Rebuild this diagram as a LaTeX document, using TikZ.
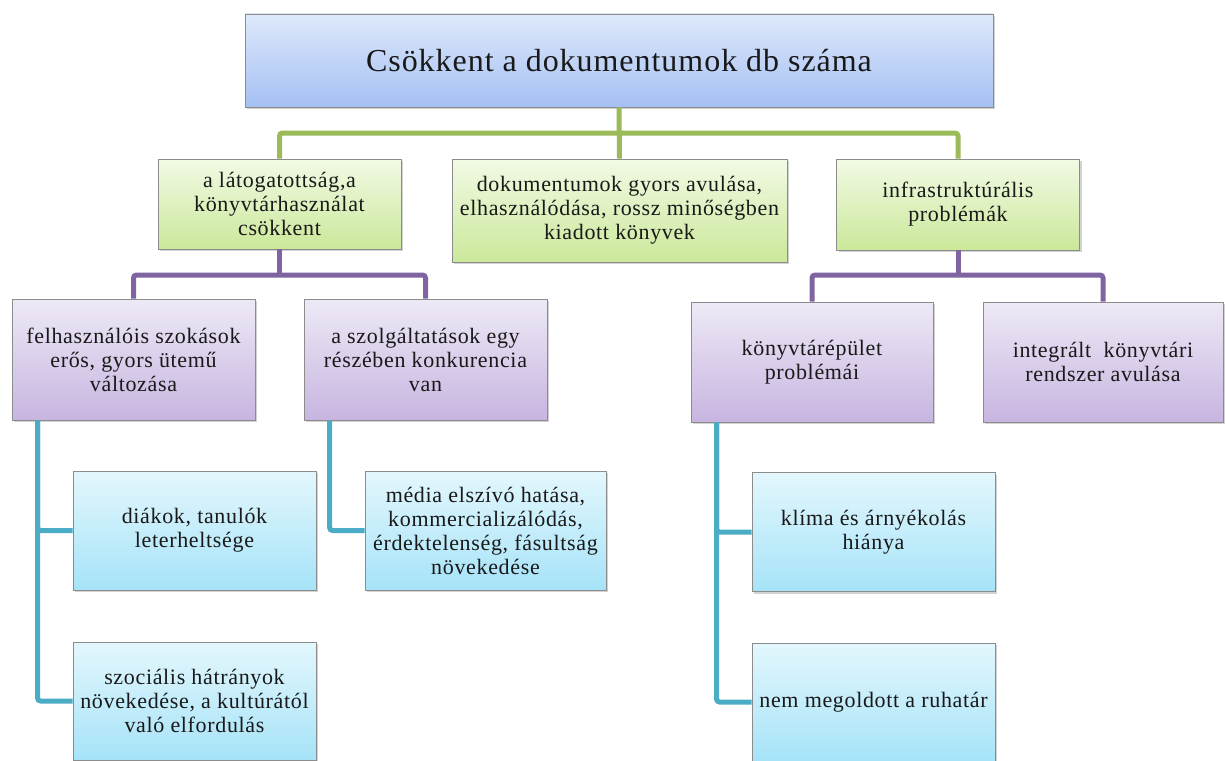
\documentclass[tikz,border=0pt]{standalone}
\usepackage{fontspec}
\setmainfont{Liberation Serif}[LetterSpace=3]
\usetikzlibrary{shadows}
\definecolor{topT}{RGB}{222,233,251}
\definecolor{topB}{RGB}{165,192,243}
\definecolor{grT}{RGB}{242,250,229}
\definecolor{grB}{RGB}{203,232,154}
\definecolor{puT}{RGB}{238,233,246}
\definecolor{puB}{RGB}{199,181,224}
\definecolor{blT}{RGB}{227,247,253}
\definecolor{blB}{RGB}{166,227,248}
\definecolor{gLine}{RGB}{155,187,89}
\definecolor{pLine}{RGB}{128,100,162}
\definecolor{bLine}{RGB}{75,172,198}
\definecolor{boxBorder}{RGB}{140,140,140}
\definecolor{txt}{RGB}{25,25,25}
\tikzset{
  basebox/.style={draw=boxBorder, line width=0.9pt, inner sep=0pt, align=center,
    text=txt, font=\fontsize{22}{24}\selectfont,
    drop shadow={opacity=0.35, shadow xshift=2pt, shadow yshift=-2pt}},
  titlebox/.style={basebox, top color=topT, bottom color=topB, font=\fontsize{32}{36}\selectfont},
  greenbox/.style={basebox, top color=grT, bottom color=grB},
  purplebox/.style={basebox, top color=puT, bottom color=puB},
  bluebox/.style={basebox, top color=blT, bottom color=blB},
  conn/.style={line width=5pt, rounded corners=3pt},
  gline/.style={conn, draw=gLine},
  pline/.style={conn, draw=pLine},
  bline/.style={conn, draw=bLine}
}
\begin{document}
\begin{tikzpicture}[x=1pt, y=-1pt]
\useasboundingbox (0,0) rectangle (1225,760);
\fill[white] (0,0) rectangle (1225,760);

% connectors first
\coordinate (gbus) at (0,133);
\coordinate (pbus) at (0,275);

% boxes
\node[titlebox, minimum width=748pt, minimum height=93pt] (top) at (619,60.5) {Csökkent a dokumentumok db száma};

\node[greenbox, minimum width=243pt, minimum height=90pt] (G1) at (279.5,204) {a látogatottság,a\\könyvtárhasználat\\csökkent};
\node[greenbox, minimum width=335pt, minimum height=103pt] (G2) at (619.5,210.5) {dokumentumok gyors avulása,\\elhasználódása, rossz minőségben\\kiadott könyvek};
\node[greenbox, minimum width=243pt, minimum height=91pt] (G3) at (958,204.5) {infrastruktúrális\\problémák};

\node[purplebox, minimum width=243pt, minimum height=121pt] (P1) at (133.5,359.5) {felhasználóis szokások\\erős, gyors ütemű\\változása};
\node[purplebox, minimum width=243pt, minimum height=121pt] (P2) at (425.5,359.5) {a szolgáltatások egy\\részében konkurencia\\van};
\node[purplebox, minimum width=242pt, minimum height=120pt] (P3) at (812,362) {könyvtárépület\\problémái};
\node[purplebox, minimum width=240pt, minimum height=120pt] (P4) at (1103,362) {integrált\ \ könyvtári\\rendszer avulása};

\node[bluebox, minimum width=243pt, minimum height=119pt] (B1) at (194.5,530.5) {diákok, tanulók\\leterheltsége};
\node[bluebox, minimum width=243pt, minimum height=118pt] (B2) at (194.5,701) {szociális hátrányok\\növekedése, a kultúrától\\való elfordulás};
\node[bluebox, minimum width=241pt, minimum height=119pt] (B3) at (485.5,530.5) {média elszívó hatása,\\kommercializálódás,\\érdektelenség, fásultság\\növekedése};
\node[bluebox, minimum width=243pt, minimum height=119pt] (B4) at (873.5,532) {klíma és árnyékolás\\hiánya};
\node[bluebox, minimum width=243pt, minimum height=118pt] (B5) at (873.5,702) {nem megoldott a ruhatár};

% green connectors
\draw[gline] (top.south) -- (G2.north);
\draw[gline] (G1.north) -- (G1.north |- gbus) -| (G3.north);

% purple connectors
\draw[pline] (G1.south) -- (G1.south |- pbus);
\draw[pline] (P1.north) -- (P1.north |- pbus) -| (P2.north);
\draw[pline] (G3.south) -- (G3.south |- pbus);
\draw[pline] (P3.north) -- (P3.north |- pbus) -| (P4.north);

% blue connectors
\coordinate (b1s) at ([xshift=26pt]P1.south west);
\coordinate (b2s) at ([xshift=26pt]P2.south west);
\coordinate (b3s) at ([xshift=26pt]P3.south west);
\draw[bline] (b1s) |- (B1.west);
\draw[bline] (b1s) |- (B2.west);
\draw[bline] (b2s) |- (B3.west);
\draw[bline] (b3s) |- (B4.west);
\draw[bline] (b3s) |- (B5.west);
\end{tikzpicture}
\end{document}
